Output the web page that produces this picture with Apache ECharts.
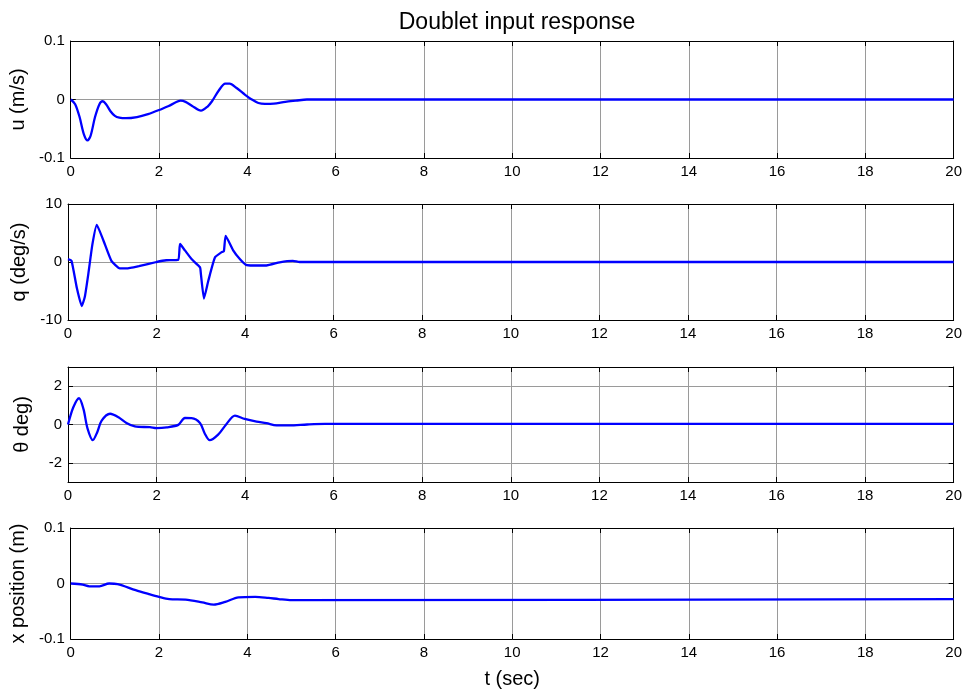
<!DOCTYPE html>
<html>
<head>
<meta charset="utf-8">
<script src="https://cdn.jsdelivr.net/npm/echarts@6/dist/echarts.min.js"></script>
<style>
  html, body { margin: 0; padding: 0; background: #fff; }
  #chart { width: 965px; height: 690px; }
</style>
</head>
<body>
<div id="chart"></div>
<script>
// time axis ticks
var tTicks = [0, 2, 4, 6, 8, 10, 12, 14, 16, 18, 20];

// u (m/s)
var tU = [0, 0.1, 0.2, 0.3, 0.38, 0.45, 0.55, 0.65, 0.72, 0.8, 0.9, 1.0, 1.1, 1.25, 1.5, 1.75, 2.0, 2.25, 2.49, 2.6, 2.75, 2.95, 3.1, 3.2, 3.35, 3.5, 3.6, 3.75, 3.95, 4.1, 4.25, 4.4, 4.6, 4.86, 5.1, 5.35, 20];
var uVals = [0, -0.008, -0.03, -0.06, -0.070, -0.062, -0.03, -0.008, -0.003, -0.008, -0.02, -0.028, -0.031, -0.032, -0.030, -0.025, -0.018, -0.01, -0.002, -0.004, -0.011, -0.019, -0.012, -0.003, 0.015, 0.027, 0.027, 0.02, 0.008, 0.0, -0.006, -0.0075, -0.007, -0.004, -0.002, 0, 0];

// q (deg/s)
var tQ = [0, 0.08, 0.2, 0.31, 0.38, 0.46, 0.55, 0.65, 0.8, 0.98, 1.17, 1.32, 1.6, 2.0, 2.22, 2.49, 2.53, 2.64, 2.79, 2.98, 3.0, 3.07, 3.17, 3.32, 3.47, 3.52, 3.56, 3.73, 3.88, 4.02, 4.18, 4.48, 4.78, 5.08, 5.23, 20];
var qVals = [0.5, 0.2, -4.5, -7.6, -6.0, -2.0, 3.0, 6.4, 3.7, 0.2, -1.1, -1.1, -0.7, 0, 0.3, 0.4, 3.1, 2.0, 0.5, -0.9, -2.0, -6.3, -3.2, 0.8, 1.7, 1.85, 4.5, 2.0, 0.5, -0.5, -0.6, -0.6, -0.05, 0.2, 0, 0];

// theta (deg)
var tTh = [0, 0.12, 0.25, 0.35, 0.44, 0.56, 0.66, 0.76, 0.95, 1.14, 1.32, 1.51, 1.85, 2.0, 2.23, 2.49, 2.64, 2.79, 2.98, 3.09, 3.2, 3.39, 3.58, 3.77, 3.99, 4.26, 4.48, 4.71, 5.0, 5.4, 5.8, 20];
var thVals = [0, 0.9, 1.37, 0.8, -0.2, -0.82, -0.4, 0.2, 0.56, 0.38, 0.08, -0.1, -0.14, -0.19, -0.15, -0.02, 0.34, 0.33, 0.08, -0.48, -0.82, -0.53, 0.03, 0.46, 0.29, 0.15, 0.07, -0.05, -0.05, 0, 0.03, 0.03];

// x position (m)
var tX = [0, 0.27, 0.42, 0.65, 0.87, 1.06, 1.47, 1.77, 2.0, 2.23, 2.6, 2.98, 3.24, 3.5, 3.8, 4.18, 4.48, 4.71, 5.0, 20];
var xVals = [0, -0.002, -0.005, -0.005, 0, -0.001, -0.012, -0.019, -0.024, -0.028, -0.029, -0.034, -0.038, -0.033, -0.025, -0.024, -0.026, -0.028, -0.030, -0.028];

var thetaTicks = [-2, 0, 2];

var FONT = "'Liberation Sans', Arial, sans-serif";
var myChart = echarts.init(document.getElementById('chart'));

var gridTops = [41, 204, 367, 528];
var gridHeights = [117, 116, 115, 117];
var yNames = ['u (m/s)', 'q (deg/s)', '\u03b8 deg)', 'x position (m)'];
var yRanges = [[-0.1, 0.1, 0.1], [-10, 10, 10], [-3, 3, null], [-0.1, 0.1, 0.1]];

function pairs(ts, vs) {
    return ts.map(function (t, i) { return [t, vs[i]]; });
}
var seriesData = [pairs(tU, uVals), pairs(tQ, qVals), pairs(tTh, thVals), pairs(tX, xVals)];

var grids = [], xAxes = [], yAxes = [], series = [];
for (var i = 0; i < 4; i++) {
    grids.push({ left: 68, right: 8, top: gridTops[i], height: gridHeights[i] });
    // bottom x axis
    xAxes.push({
        type: 'value', gridIndex: i, min: 0, max: 20, interval: 2, position: 'bottom',
        name: i === 3 ? 't (sec)' : '', nameLocation: 'middle', nameGap: 30,
        nameTextStyle: { fontFamily: FONT, fontSize: 20, color: '#000' },
        axisLine: { show: true, onZero: false, lineStyle: { color: '#000', width: 1 } },
        axisTick: { show: true, inside: true, length: 5, lineStyle: { color: '#000' } },
        axisLabel: { fontFamily: FONT, fontSize: 15, color: '#000', margin: 6, showMinLabel: true, showMaxLabel: true },
        splitLine: { show: true, lineStyle: { color: '#9a9a9a', width: 1 } }
    });
    // top x axis (mirrored ticks)
    xAxes.push({
        type: 'value', gridIndex: i, min: 0, max: 20, interval: 2, position: 'top',
        axisLine: { show: true, onZero: false, lineStyle: { color: '#000', width: 1 } },
        axisTick: { show: true, inside: true, length: 5, lineStyle: { color: '#000' } },
        axisLabel: { show: false },
        splitLine: { show: false }
    });
    var r = yRanges[i];
    var yLeft = {
        type: 'value', gridIndex: i, min: r[0], max: r[1], position: 'left',
        name: yNames[i], nameLocation: 'middle', nameGap: 36,
        nameTextStyle: { fontFamily: FONT, fontSize: 20, color: '#000' },
        axisLine: { show: true, onZero: false, lineStyle: { color: '#000', width: 1 } },
        axisTick: { show: true, inside: true, length: 5, lineStyle: { color: '#000' } },
        axisLabel: { fontFamily: FONT, fontSize: 15, color: '#000', margin: 6, showMinLabel: true, showMaxLabel: true },
        splitLine: { show: true, lineStyle: { color: '#9a9a9a', width: 1 } }
    };
    var yRight = {
        type: 'value', gridIndex: i, min: r[0], max: r[1], position: 'right',
        axisLine: { show: true, onZero: false, lineStyle: { color: '#000', width: 1 } },
        axisTick: { show: true, inside: true, length: 5, lineStyle: { color: '#000' } },
        axisLabel: { show: false },
        splitLine: { show: false }
    };
    if (r[2] !== null) {
        yLeft.interval = r[2];
        yRight.interval = r[2];
    } else {
        yLeft.axisTick.customValues = thetaTicks;
        yLeft.axisLabel.customValues = thetaTicks;
        yRight.axisTick.customValues = thetaTicks;
        yRight.axisLabel.customValues = thetaTicks;
    }
    yAxes.push(yLeft, yRight);

    series.push({
        type: 'line', xAxisIndex: 2 * i, yAxisIndex: 2 * i,
        data: seriesData[i], showSymbol: false, smooth: i === 1 ? 0.15 : 0.3,
        lineStyle: { color: '#0000ff', width: 2.3 },
        itemStyle: { color: '#0000ff' }
    });
}

myChart.setOption({
    animation: false,
    backgroundColor: '#fff',
    title: {
        text: 'Doublet input response',
        left: 512, top: 6, textAlign: 'center',
        textStyle: { fontFamily: FONT, fontSize: 23, fontWeight: 'normal', color: '#000' }
    },
    grid: grids,
    xAxis: xAxes,
    yAxis: yAxes,
    series: series
});
</script>
</body>
</html>
